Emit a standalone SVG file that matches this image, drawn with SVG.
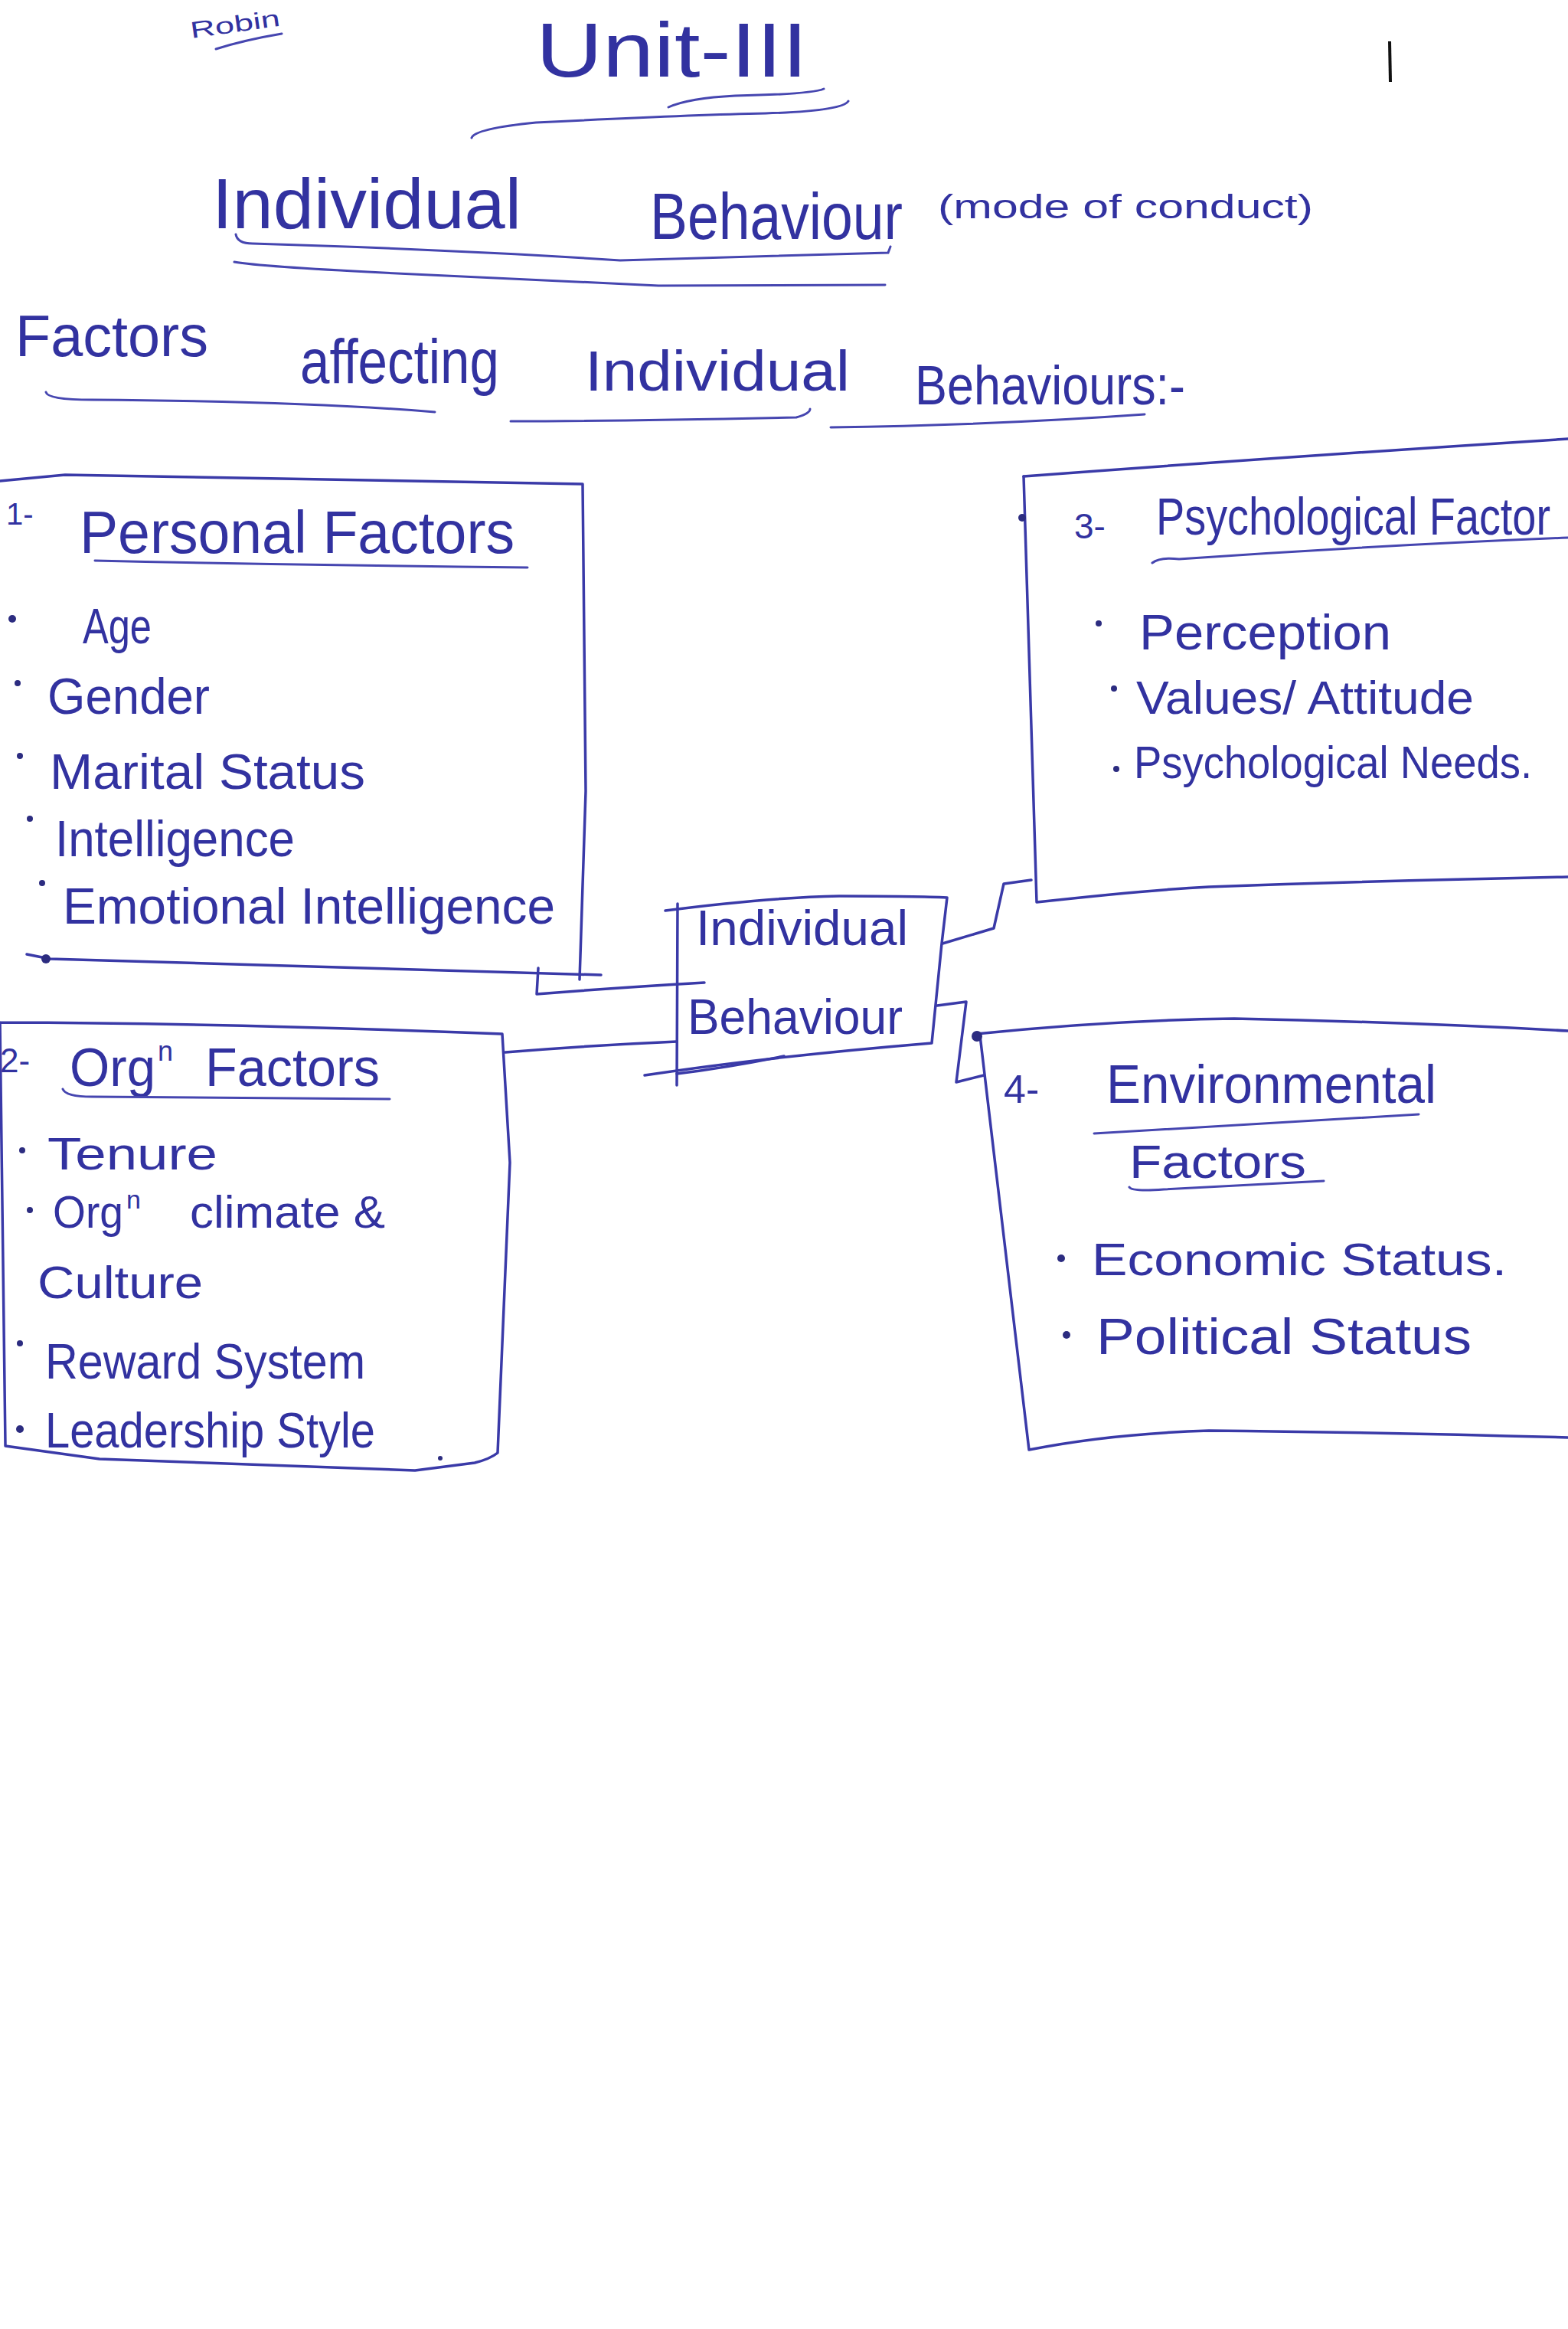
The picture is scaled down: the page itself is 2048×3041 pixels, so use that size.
<svg xmlns="http://www.w3.org/2000/svg" width="2048" height="3041" viewBox="0 0 2048 3041">
<style>
.ink{fill:none;stroke:#3a3aa8;stroke-width:3.5;stroke-linecap:round;stroke-linejoin:round}
.ul{fill:none;stroke:#4646b0;stroke-width:3;stroke-linecap:round}
.t{font-family:"Liberation Sans","DejaVu Sans",sans-serif;fill:#3232a0}
.dot{fill:#2c2c80}
</style>
<rect width="2048" height="3041" fill="#ffffff"/>

<g id="title">
  <text class="t" x="250" y="50" font-size="30" textLength="118" lengthAdjust="spacingAndGlyphs" transform="rotate(-8 250 50)">Robin</text>
  <path class="ul" d="M282,64 Q320,52 368,44"/>
  <text class="t" x="700" y="100" font-size="100" textLength="355" lengthAdjust="spacingAndGlyphs">Unit-III</text>
  <path class="ul" d="M873,140 Q900,128 960,125 Q1060,123 1076,116"/>
  <path class="ul" d="M616,180 Q620,168 700,160 Q900,150 1000,148 Q1100,145 1108,132"/>
  <path d="M1815,54 L1816,107" stroke="#111" stroke-width="4"/>
  <text class="t" x="277" y="298" font-size="92" textLength="404" lengthAdjust="spacingAndGlyphs">Individual</text>
  <text class="t" x="849" y="312" font-size="86" textLength="330" lengthAdjust="spacingAndGlyphs">Behaviour</text>
  <text class="t" x="1225" y="285" font-size="44" textLength="490" lengthAdjust="spacingAndGlyphs">(mode of conduct)</text>
  <path class="ul" d="M308,306 Q310,318 330,318 Q600,326 810,340 Q1000,334 1160,330 L1163,322"/>
  <path class="ul" d="M306,342 Q340,348 500,356 Q700,365 860,373 Q1000,372 1156,372"/>
  <text class="t" x="20" y="465" font-size="76" textLength="252" lengthAdjust="spacingAndGlyphs">Factors</text>
  <text class="t" x="392" y="500" font-size="82" textLength="260" lengthAdjust="spacingAndGlyphs">affecting</text>
  <text class="t" x="764" y="510" font-size="74" textLength="346" lengthAdjust="spacingAndGlyphs">Individual</text>
  <text class="t" x="1195" y="528" font-size="72" textLength="353" lengthAdjust="spacingAndGlyphs">Behaviours:-</text>
  <path class="ul" d="M60,512 Q62,522 120,522 Q400,524 568,538"/>
  <path class="ul" d="M667,550 Q800,550 1040,545 Q1058,540 1058,534"/>
  <path class="ul" d="M1085,558 Q1300,555 1495,541"/>
</g>

<g id="node-personal">
  <path class="ink" d="M0,628 L85,620 Q400,625 761,632 L765,1033 L757,1279"/>
  <path class="ink" d="M35,1246 L65,1252 Q400,1262 785,1273"/>
  <circle class="dot" cx="60" cy="1252" r="6"/>
  <text class="t" x="8" y="685" font-size="40">1-</text>
  <text class="t" x="104" y="722" font-size="78" textLength="568" lengthAdjust="spacingAndGlyphs">Personal   Factors</text>
  <path class="ul" d="M124,732 Q400,738 689,741"/>
  <circle class="dot" cx="16" cy="808" r="5"/>
  <text class="t" x="108" y="840" font-size="64" textLength="90" lengthAdjust="spacingAndGlyphs">Age</text>
  <circle class="dot" cx="23" cy="892" r="4"/>
  <text class="t" x="62" y="932" font-size="66" textLength="212" lengthAdjust="spacingAndGlyphs">Gender</text>
  <circle class="dot" cx="26" cy="987" r="4"/>
  <text class="t" x="65" y="1030" font-size="64" textLength="412" lengthAdjust="spacingAndGlyphs">Marital Status</text>
  <circle class="dot" cx="39" cy="1069" r="4"/>
  <text class="t" x="72" y="1118" font-size="66" textLength="313" lengthAdjust="spacingAndGlyphs">Intelligence</text>
  <circle class="dot" cx="55" cy="1153" r="4"/>
  <text class="t" x="82" y="1206" font-size="66" textLength="643" lengthAdjust="spacingAndGlyphs">Emotional Intelligence</text>
</g>

<g id="node-center">
  <path class="ink" d="M869,1189 Q1000,1172 1096,1170 Q1200,1170 1237,1172 L1230,1232 L1217,1362 Q1000,1380 842,1404"/>
  <path class="ink" d="M885,1180 L884,1417"/>
  <text class="t" x="909" y="1234" font-size="64" textLength="277" lengthAdjust="spacingAndGlyphs">Individual</text>
  <text class="t" x="898" y="1350" font-size="64" textLength="281" lengthAdjust="spacingAndGlyphs">Behaviour</text>
</g>

<g id="node-org">
  <path class="ink" d="M0,1335 Q300,1336 656,1350 L666,1518 L650,1897 Q640,1905 620,1910 L542,1920 Q300,1912 130,1905 L7,1888 L0,1335"/>
  <circle class="dot" cx="575" cy="1904" r="3"/>
  <text class="t" x="0" y="1400" font-size="44">2-</text>
  <text class="t" x="91" y="1418" font-size="70" textLength="112" lengthAdjust="spacingAndGlyphs">Org</text>
  <text class="t" x="206" y="1385" font-size="36">n</text>
  <text class="t" x="268" y="1418" font-size="70" textLength="228" lengthAdjust="spacingAndGlyphs">Factors</text>
  <path class="ul" d="M82,1422 Q86,1432 120,1432 Q300,1433 509,1435"/>
  <circle class="dot" cx="29" cy="1502" r="4"/>
  <text class="t" x="62" y="1527" font-size="60" textLength="222" lengthAdjust="spacingAndGlyphs">Tenure</text>
  <circle class="dot" cx="39" cy="1580" r="4"/>
  <text class="t" x="69" y="1603" font-size="60" textLength="92" lengthAdjust="spacingAndGlyphs">Org</text>
  <text class="t" x="165" y="1578" font-size="34">n</text>
  <text class="t" x="248" y="1603" font-size="60" textLength="255" lengthAdjust="spacingAndGlyphs">climate &amp;</text>
  <text class="t" x="49" y="1695" font-size="60" textLength="216" lengthAdjust="spacingAndGlyphs">Culture</text>
  <circle class="dot" cx="26" cy="1754" r="4"/>
  <text class="t" x="59" y="1800" font-size="64" textLength="418" lengthAdjust="spacingAndGlyphs">Reward  System</text>
  <circle class="dot" cx="26" cy="1866" r="5"/>
  <text class="t" x="59" y="1890" font-size="64" textLength="431" lengthAdjust="spacingAndGlyphs">Leadership Style</text>
</g>

<g id="node-psych">
  <path class="ink" d="M1337,622 Q1700,595 2048,573"/>
  <path class="ink" d="M1337,622 L1354,1178 Q1500,1162 1579,1158 Q1800,1150 2048,1145"/>
  <circle class="dot" cx="1335" cy="676" r="5"/>
  <text class="t" x="1403" y="703" font-size="46" fill="#222">3-</text>
  <text class="t" x="1510" y="698" font-size="68" textLength="515" lengthAdjust="spacingAndGlyphs">Psychological Factor</text>
  <path class="ul" d="M1505,735 Q1515,727 1540,730 Q1800,712 2048,702"/>
  <circle class="dot" cx="1435" cy="814" r="4"/>
  <text class="t" x="1488" y="848" font-size="64" textLength="329" lengthAdjust="spacingAndGlyphs">Perception</text>
  <circle class="dot" cx="1455" cy="899" r="4"/>
  <text class="t" x="1484" y="932" font-size="62" textLength="441" lengthAdjust="spacingAndGlyphs">Values/ Attitude</text>
  <circle class="dot" cx="1458" cy="1004" r="4"/>
  <text class="t" x="1481" y="1016" font-size="60" textLength="520" lengthAdjust="spacingAndGlyphs">Psychological Needs.</text>
</g>

<g id="node-env">
  <path class="ink" d="M1275,1350 Q1450,1332 1612,1330 Q1850,1335 2048,1346"/>
  <path class="ink" d="M1280,1352 L1344,1893 Q1450,1872 1579,1868 Q1800,1870 2048,1877"/>
  <circle class="dot" cx="1276" cy="1353" r="7"/>
  <text class="t" x="1311" y="1440" font-size="52">4-</text>
  <text class="t" x="1445" y="1440" font-size="70" textLength="431" lengthAdjust="spacingAndGlyphs">Environmental</text>
  <path class="ul" d="M1429,1480 Q1600,1470 1853,1455"/>
  <text class="t" x="1475" y="1538" font-size="62" textLength="231" lengthAdjust="spacingAndGlyphs">Factors</text>
  <path class="ul" d="M1475,1550 Q1478,1556 1520,1553 Q1650,1546 1729,1542"/>
  <circle class="dot" cx="1386" cy="1643" r="5"/>
  <text class="t" x="1426" y="1665" font-size="60" textLength="542" lengthAdjust="spacingAndGlyphs">Economic  Status.</text>
  <circle class="dot" cx="1393" cy="1743" r="5"/>
  <text class="t" x="1432" y="1768" font-size="66" textLength="490" lengthAdjust="spacingAndGlyphs">Political   Status</text>
</g>

<g id="connectors">
  <path class="ink" d="M703,1264 L701,1298 Q800,1290 920,1283"/>
  <path class="ink" d="M660,1374 Q770,1365 884,1360"/>
  <path class="ink" d="M884,1402 Q950,1394 1024,1379"/>
  <path class="ink" d="M1231,1232 L1298,1212 L1311,1154 L1347,1149"/>
  <path class="ink" d="M1224,1313 L1262,1308 L1249,1413 L1285,1404"/>
</g>
</svg>
